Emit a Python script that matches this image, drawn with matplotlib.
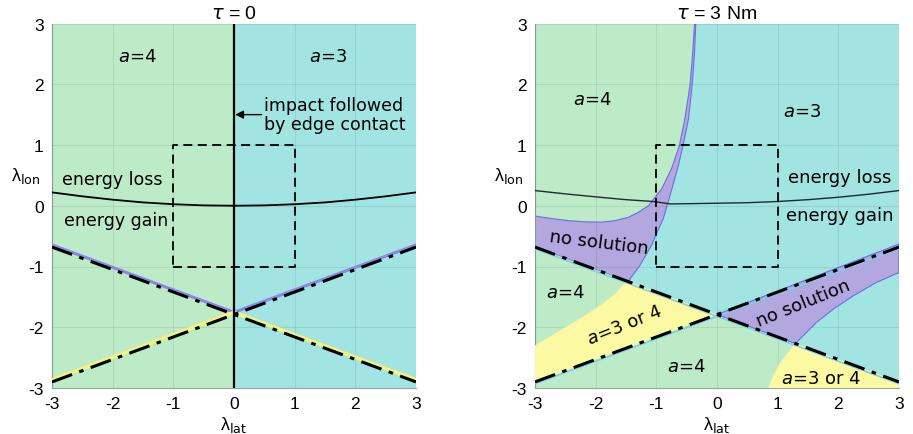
import numpy as np
import matplotlib
matplotlib.use("Agg")
import matplotlib.pyplot as plt

# ---------------- data ----------------
# stability boundaries (dash-dot lines), shared by both panels
desc_lat = [-3.0, 0.0, 3.0]
desc_lon = [-0.68, -1.79, -2.90]
rise_lat = [-3.0, 0.0, 3.0]
rise_lon = [-2.90, -1.79, -0.68]

# energy loss / gain boundary
energy0_lat = [-3, -2.5, -2, -1.5, -1, -0.5, 0, 0.5, 1, 1.5, 2, 2.5, 3]
energy0_lon = [0.22, 0.155, 0.10, 0.055, 0.025, 0.006, 0.0, 0.006, 0.025, 0.055, 0.10, 0.155, 0.22]
energy3_lat = [-3, -2.5, -1.93, -1.5, -1.05, -0.77, -0.4, -0.1, 0.5, 1, 1.5, 2, 2.5, 3]
energy3_lon = [0.25, 0.195, 0.14, 0.10, 0.07, 0.03, 0.035, 0.04, 0.05, 0.07, 0.10, 0.14, 0.19, 0.25]

# tau = 3 Nm: boundary between a=4 (upper left) and "no solution"
green_edge_lat = [-0.37, -0.40, -0.445, -0.53, -0.62, -0.75, -0.91, -1.13, -1.30, -1.46,
                  -1.68, -1.90, -2.18, -2.45, -2.73, -3.0]
green_edge_lon = [3.0, 2.53, 1.98, 1.43, 0.99, 0.61, 0.28, 0.0, -0.11, -0.19,
                  -0.245, -0.27, -0.265, -0.245, -0.21, -0.17]
# boundary between "no solution" and a=3 (upper)
cyan_edge_lat = [-1.46, -1.43, -1.27, -1.08, -0.885, -0.76, -0.65, -0.56, -0.47, -0.41, -0.37, -0.35]
cyan_edge_lon = [-1.25, -1.20, -0.98, -0.65, -0.21, 0.22, 0.61, 0.99, 1.43, 1.98, 2.53, 3.0]
# lower "no solution" wedge, lower boundary
nosol2_lat = [3.0, 2.63, 2.25, 1.92, 1.64, 1.42, 1.29]
nosol2_lon = [-1.10, -1.26, -1.48, -1.70, -1.92, -2.14, -2.27]
nosol2_top = -0.63
# "a=3 or 4" regions
yellow1_lat = [-3.0, -2.73, -2.45, -2.18, -1.90, -1.68, -1.49]
yellow1_lon = [-2.30, -2.14, -1.97, -1.81, -1.62, -1.45, -1.24]
yellow2_lat = [0.85, 0.90, 1.01, 1.15, 1.29]
yellow2_lon = [-3.0, -2.85, -2.63, -2.44, -2.27]

ticks = [-3, -2, -1, 0, 1, 2, 3]
box_lat = [-1, 1, 1, -1, -1]
box_lon = [-1, -1, 1, 1, -1]

# ---------------- style ----------------
GREEN = "#bdeac7"
CYAN = "#a1e4e1"
PURPLE = "#b2a7de"
YELLOW = "#fbf9a2"
EDGE = "#6b6fe0"
TICKFONT = "Liberation Sans"
TEXTFONT = "DejaVu Sans"
plt.rcParams["mathtext.fontset"] = "dejavusans"

fig = plt.figure(figsize=(9.13, 4.35), dpi=100)
axL = fig.add_axes([52 / 913, 46 / 435, 364 / 913, 364.5 / 435])
axR = fig.add_axes([535 / 913, 46 / 435, 364 / 913, 364.5 / 435])


def style_axes(ax, title):
    ax.set_xlim(-3, 3)
    ax.set_ylim(-3, 3)
    ax.set_xticks(ticks)
    ax.set_yticks(ticks)
    ax.set_xticklabels([str(t) for t in ticks], fontfamily=TICKFONT, fontsize=12.5)
    ax.set_yticklabels([str(t) for t in ticks], fontfamily=TICKFONT, fontsize=12.5)
    ax.tick_params(length=0, pad=6)
    ax.grid(True, color="#000000", alpha=0.07, linewidth=0.8, zorder=4)
    ax.set_axisbelow(False)
    for s in ("top", "right"):
        ax.spines[s].set_visible(False)
    for s in ("left", "bottom"):
        ax.spines[s].set_color("#8fa8a0")
        ax.spines[s].set_linewidth(0.8)
    ax.set_title(title, fontfamily=TICKFONT, fontsize=14, pad=4)
    ax.set_xlabel("λ$_{\\rm lat}$", fontfamily=TICKFONT, fontsize=13, labelpad=2)
    ax.text(-0.072, 0.585, "λ$_{\\rm lon}$", transform=ax.transAxes,
            ha="center", va="center", fontfamily=TICKFONT, fontsize=13)


def along(lat, lon, a, b, n=2):
    """points on a straight boundary between lat=a and lat=b"""
    xs = np.linspace(a, b, n)
    return list(zip(xs, np.interp(xs, lat, lon)))


def dashdot(ax, lat, lon):
    ax.plot(lat, lon, color="k", linewidth=2.2, dashes=(7, 2.5, 1.5, 2.5), zorder=6)


def box(ax):
    ax.plot(box_lat, box_lon, color="k", linewidth=1.3, dashes=(5, 3), zorder=6)


# ---------------- left panel: tau = 0 ----------------
ax = axL
ax.fill([-3, 0, 0, -3], [-3, -3, 3, 3], color=GREEN, lw=0, zorder=1)
ax.fill([0, 3, 3, 0], [-3, -3, 3, 3], color=CYAN, lw=0, zorder=1)
# thin sliver regions along the boundaries
off = 0.035
ax.plot(desc_lat[:2], np.array(desc_lon[:2]) + off, color="#8c86e6", lw=2.2, zorder=5)
ax.plot(rise_lat[1:], np.array(rise_lon[1:]) + off, color="#8c86e6", lw=2.2, zorder=5)
ax.plot(rise_lat[:2], np.array(rise_lon[:2]) + off, color="#f6f27a", lw=2.6, zorder=5)
ax.plot(desc_lat[1:], np.array(desc_lon[1:]) + off, color="#f6f27a", lw=2.6, zorder=5)
dashdot(ax, desc_lat, desc_lon)
dashdot(ax, rise_lat, rise_lon)
ax.plot(energy0_lat, energy0_lon, color="k", lw=1.3, zorder=6)
ax.axvline(0, color="k", lw=1.6, zorder=6)
box(ax)
style_axes(ax, "$\\tau$ = 0")
ax.text(-1.6, 2.47, "$a$=4", ha="center", va="center", fontsize=13, fontfamily=TEXTFONT, zorder=7)
ax.text(1.55, 2.47, "$a$=3", ha="center", va="center", fontsize=13, fontfamily=TEXTFONT, zorder=7)
ax.text(-2.0, 0.44, "energy loss", ha="center", va="center", fontsize=12.5, fontfamily=TEXTFONT, zorder=7)
ax.text(-1.95, -0.24, "energy gain", ha="center", va="center", fontsize=12.5, fontfamily=TEXTFONT, zorder=7)
ax.annotate("impact followed\nby edge contact", xy=(0.02, 1.5), xytext=(0.5, 1.5),
            ha="left", va="center", fontsize=12.5, fontfamily=TEXTFONT, linespacing=1.05,
            arrowprops=dict(arrowstyle="-|>", color="k", lw=1.0, mutation_scale=12,
                            shrinkA=0, shrinkB=0), zorder=7)

# ---------------- right panel: tau = 3 Nm ----------------
ax = axR
ax.fill([-3, 3, 3, -3], [-3, -3, 3, 3], color=CYAN, lw=0, zorder=1)

# a=4 upper left
g_pts = list(zip(green_edge_lat, green_edge_lon)) + [(-3.0, 3.0)]
ax.fill(*zip(*g_pts), color=GREEN, lw=0, zorder=2)

# upper "no solution"
p1 = (list(zip(green_edge_lat, green_edge_lon))
      + along(desc_lat, desc_lon, -3.0, cyan_edge_lat[0])
      + list(zip(cyan_edge_lat, cyan_edge_lon)))
ax.fill(*zip(*p1), facecolor=PURPLE, edgecolor=EDGE, lw=0.8, zorder=2)

# a=4 below the descending boundary
g2 = along(desc_lat, desc_lon, -3, 3, 3) + [(3, -3), (-3, -3)]
ax.fill(*zip(*g2), color=GREEN, lw=0, zorder=2)

# a=3 or 4 (left)
y1 = (list(zip(yellow1_lat, yellow1_lon))
      + along(desc_lat, desc_lon, yellow1_lat[-1], 0.0)
      + along(rise_lat, rise_lon, 0.0, -3.0))
ax.fill(*zip(*y1), color=YELLOW, lw=0, zorder=3)

# lower "no solution"
p2 = ([(0.0, rise_lon[1]), (3.0, nosol2_top)]
      + list(zip(nosol2_lat, nosol2_lon))
      + along(desc_lat, desc_lon, nosol2_lat[-1], 0.0))
ax.fill(*zip(*p2), facecolor=PURPLE, edgecolor=EDGE, lw=0.8, zorder=3)

# a=3 or 4 (bottom right)
y2 = (list(zip(yellow2_lat, yellow2_lon))
      + along(desc_lat, desc_lon, yellow2_lat[-1], 3.0)
      + [(3.0, -3.0)])
ax.fill(*zip(*y2), color=YELLOW, lw=0, zorder=3)

# thin cyan slivers just below the boundaries
ax.plot(desc_lat, np.array(desc_lon) - 0.03, color="#7fd0e8", lw=1.2, zorder=5)
ax.plot(rise_lat, np.array(rise_lon) - 0.03, color="#7fd0e8", lw=1.2, zorder=5)
dashdot(ax, desc_lat, desc_lon)
dashdot(ax, rise_lat, rise_lon)
ax.plot(energy3_lat, energy3_lon, color="#1e2a30", lw=1.0, zorder=6)
box(ax)
style_axes(ax, "$\\tau$ = 3 Nm")

kw = dict(ha="center", va="center", fontsize=13, fontfamily=TEXTFONT, zorder=7)
ax.text(-2.05, 1.76, "$a$=4", **kw)
ax.text(1.4, 1.56, "$a$=3", **kw)
ax.text(2.03, 0.47, "energy loss", **kw)
ax.text(2.03, -0.15, "energy gain", **kw)
ax.text(-1.95, -0.6, "no solution", rotation=-7, **kw)
ax.text(-2.5, -1.42, "$a$=4", **kw)
ax.text(-1.52, -1.95, "$a$=3 or 4", rotation=22, **kw)
ax.text(1.42, -1.59, "no solution", rotation=22, **kw)
ax.text(-0.5, -2.64, "$a$=4", **kw)
ax.text(1.72, -2.83, "$a$=3 or 4", **kw)

fig.savefig("out.png", dpi=100, facecolor="white")
